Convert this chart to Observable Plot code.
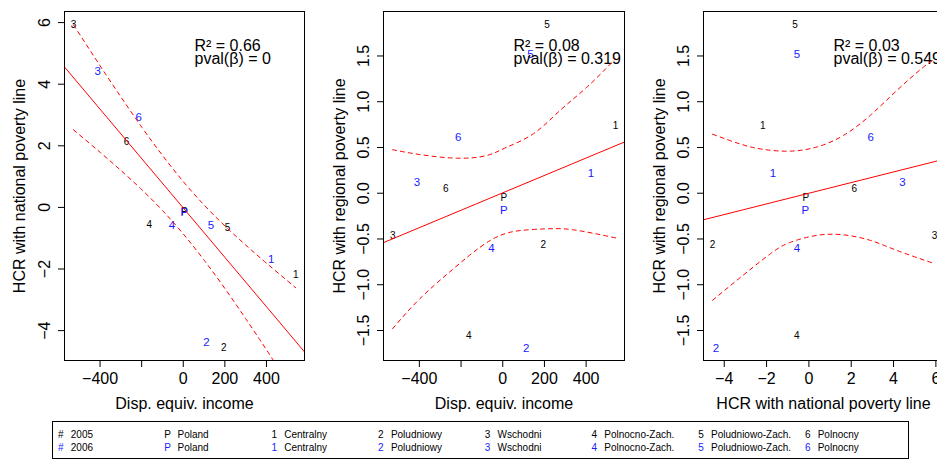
<!DOCTYPE html>
<html><head><meta charset="utf-8">
<script src="https://cdn.jsdelivr.net/npm/d3@7"></script>
<script src="https://cdn.jsdelivr.net/npm/@observablehq/plot@0.6"></script>
<style>
body{margin:0;background:#fff;font-family:"Liberation Sans",Arial,Helvetica,sans-serif;}
#wrap{position:relative;width:937px;height:460px;overflow:hidden;background:#fff}
.panel{position:absolute;top:0}
#legend{position:absolute;left:52px;top:421px;width:855px;height:36px;border:1px solid #000;font-size:10px;color:#000}
#legend span{position:absolute;white-space:nowrap;line-height:10px}
</style></head><body><div id="wrap"></div>
<script>
// ---------- data ----------
const codes = ["P","1","2","3","4","5","6"];
const names = ["Poland","Centralny","Poludniowy","Wschodni","Polnocno-Zach.","Poludniowo-Zach.","Polnocny"];
const years = ["2005","2006"];

const income2005 = [5, 541, 195, -528, -163, 213, -273];
const income2006 = [5, 423, 112, -411, -54, 133, -214];
const hcrNat2005 = [-0.15, -2.18, -4.55, 5.94, -0.57, -0.66, 2.14];
const hcrNat2006 = [-0.17, -1.70, -4.39, 4.42, -0.57, -0.57, 2.92];
const hcrReg2005 = [-0.05, 0.74, -0.56, -0.46, -1.56, 1.84, 0.05];
const hcrReg2006 = [-0.19, 0.22, -1.69, 0.12, -0.60, 1.52, 0.61];

// regression fits and confidence curves
const fit1X = [-571, 583];   const fit1Y = [4.56, -4.69];
const band1X = [-528, -400, -300, -200, -100, 0, 100, 200, 300, 400, 541];
const band1Upper = [5.93, 4.60, 3.59, 2.61, 1.69, 0.84, 0.08, -0.60, -1.22, -1.81, -2.61];
const band1Lower = [2.52, 1.79, 1.20, 0.58, -0.10, -0.86, -1.71, -2.63, -3.61, -4.62, -6.09];

const fit2X = [-572, 584];   const fit2Y = [-0.54, 0.56];
const up2X = [-528, -398, -221, -77, 19, 147, 275, 404, 541];
const up2Y = [0.475, 0.423, 0.383, 0.412, 0.503, 0.650, 0.905, 1.160, 1.47];
const lo2X = [-528, -398, -237, -109, -13, 83, 211, 339, 541];
const lo2Y = [-1.48, -1.154, -0.826, -0.590, -0.462, -0.408, -0.389, -0.400, -0.488];

const fit3X = [-4.98, 6.36]; const fit3Y = [-0.29, 0.37];
const up3X = [-4.55, -3.22, -2.12, -0.86, 0.40, 1.65, 2.91, 4.17, 5.42, 5.94];
const up3Y = [0.645, 0.536, 0.478, 0.46, 0.507, 0.634, 0.853, 1.126, 1.38, 1.46];
const lo3X = [-4.55, -3.22, -1.81, -0.86, 0.40, 1.65, 2.91, 4.17, 5.94];
const lo3Y = [-1.17, -0.917, -0.66, -0.535, -0.46, -0.455, -0.516, -0.626, -0.77];

const annot1 = ["R² = 0.66", "pval(β) = 0"];
const annot2 = ["R² = 0.08", "pval(β) = 0.319"];
const annot3 = ["R² = 0.03", "pval(β) = 0.549"];

const incomeTicks = [-400, -200, 0, 200, 400];
const incomeTickLabels = ["−400", "", "0", "200", "400"];
const natTicks = [-4, -2, 0, 2, 4, 6];
const natTickLabels = ["−4", "−2", "0", "2", "4", "6"];
const regTicks = [-1.5, -1, -0.5, 0, 0.5, 1, 1.5];
const regTickLabels = ["−1.5", "−1.0", "−0.5", "0.0", "0.5", "1.0", "1.5"];

const labelIncome = "Disp. equiv. income";
const labelNat = "HCR with national poverty line";
const labelReg = "HCR with regional poverty line";

// ---------- drawing ----------
const FONT = '"Liberation Sans", Arial, Helvetica, sans-serif';
const wrap = document.getElementById("wrap");

function zipXY(xs, ys) { return xs.map((x, i) => ({x, y: ys[i]})); }
function pts(xs, ys) { return codes.map((c, i) => ({c, x: xs[i], y: ys[i]})); }
function fmt(ticks, labels) { const m = new Map(ticks.map((t, i) => [t, labels[i]])); return d => m.get(d) ?? ""; }

function panel(o) {
  const chart = Plot.plot({
    width: 320, height: 415,
    marginLeft: o.ml, marginRight: o.mr, marginTop: 11, marginBottom: 55,
    style: {fontFamily: FONT, background: "transparent", color: "#000"},
    x: {domain: o.xDomain},
    y: {domain: o.yDomain},
    marks: [
      Plot.text(pts(o.x05, o.y05), {x: "x", y: "y", text: "c", fill: "#000", fontSize: 10}),
      Plot.text(pts(o.x06, o.y06), {x: "x", y: "y", text: "c", fill: "#1a1aff", fontSize: 11.5}),
      Plot.text([o.annot[0]], {frameAnchor: "top-left", dx: 130, dy: 39.5, lineAnchor: "bottom", textAnchor: "start", fontSize: 16, text: d => d}),
      Plot.text([o.annot[1]], {frameAnchor: "top-left", dx: 130, dy: 52.5, lineAnchor: "bottom", textAnchor: "start", fontSize: 16, text: d => d}),
      Plot.line(zipXY(o.fitX, o.fitY), {x: "x", y: "y", stroke: "red", strokeWidth: 1, clip: true}),
      Plot.line(zipXY(o.upX, o.upY), {x: "x", y: "y", stroke: "red", strokeWidth: 1, strokeDasharray: "4,4", curve: "natural", clip: true}),
      Plot.line(zipXY(o.loX, o.loY), {x: "x", y: "y", stroke: "red", strokeWidth: 1, strokeDasharray: "4,4", curve: "natural", clip: true}),
      Plot.frame({stroke: "#000", strokeWidth: 1}),
      Plot.axisX({ticks: o.xTicks, tickFormat: fmt(o.xTicks, o.xTickLabels), tickSize: 7, tickPadding: 5, fontSize: 16,
        label: o.xLabel, labelAnchor: "center", labelArrow: "none", labelOffset: 48.3}),
      Plot.axisY({ticks: o.yTicks, tickFormat: fmt(o.yTicks, o.yTickLabels), tickSize: 6, tickPadding: 9, tickRotate: -90, fontSize: 16,
        label: o.yLabel, labelAnchor: "center", labelArrow: "none", labelOffset: o.ml - 13.3})
    ]
  });
  chart.classList.add("panel");
  chart.style.left = o.left + "px";
  wrap.appendChild(chart);
}

panel({left: 0, ml: 64, mr: 16, xDomain: [-571, 583], yDomain: [-4.97, 6.36],
  x05: income2005, y05: hcrNat2005, x06: income2006, y06: hcrNat2006,
  fitX: fit1X, fitY: fit1Y, upX: band1X, upY: band1Upper, loX: band1X, loY: band1Lower,
  annot: annot1, xTicks: incomeTicks, xTickLabels: incomeTickLabels, yTicks: natTicks, yTickLabels: natTickLabels,
  xLabel: labelIncome, yLabel: labelNat});

panel({left: 320, ml: 63, mr: 16, xDomain: [-572, 584], yDomain: [-1.828, 1.986],
  x05: income2005, y05: hcrReg2005, x06: income2006, y06: hcrReg2006,
  fitX: fit2X, fitY: fit2Y, upX: up2X, upY: up2Y, loX: lo2X, loY: lo2Y,
  annot: annot2, xTicks: incomeTicks, xTickLabels: incomeTickLabels, yTicks: regTicks, yTickLabels: regTickLabels,
  xLabel: labelIncome, yLabel: labelReg});

panel({left: 640, ml: 63, mr: 17, xDomain: [-4.98, 6.36], yDomain: [-1.828, 1.986],
  x05: hcrNat2005, y05: hcrReg2005, x06: hcrNat2006, y06: hcrReg2006,
  fitX: fit3X, fitY: fit3Y, upX: up3X, upY: up3Y, loX: lo3X, loY: lo3Y,
  annot: annot3, xTicks: natTicks, xTickLabels: natTickLabels, yTicks: regTicks, yTickLabels: regTickLabels,
  xLabel: labelNat, yLabel: labelReg});

// ---------- legend ----------
const legend = document.createElement("div");
legend.id = "legend";
wrap.appendChild(legend);
const legendSymbols = ["#"].concat(codes);
const legendTexts = [years].concat(names.map(n => [n, n]));
const colColor = ["#000", "#1a1aff"];
legendSymbols.forEach((s, i) => {
  const cx = 60.8 + i * 106.7 - 53;
  [0, 1].forEach(r => {
    const top = r === 0 ? 8 : 20.8;
    const sym = document.createElement("span");
    sym.textContent = s;
    sym.style.left = cx + "px";
    sym.style.top = top + "px";
    sym.style.transform = "translateX(-50%)";
    sym.style.color = colColor[r];
    legend.appendChild(sym);
    const t = document.createElement("span");
    t.textContent = legendTexts[i][r];
    t.style.left = (cx + 10) + "px";
    t.style.top = top + "px";
    legend.appendChild(t);
  });
});
</script>
</body></html>
